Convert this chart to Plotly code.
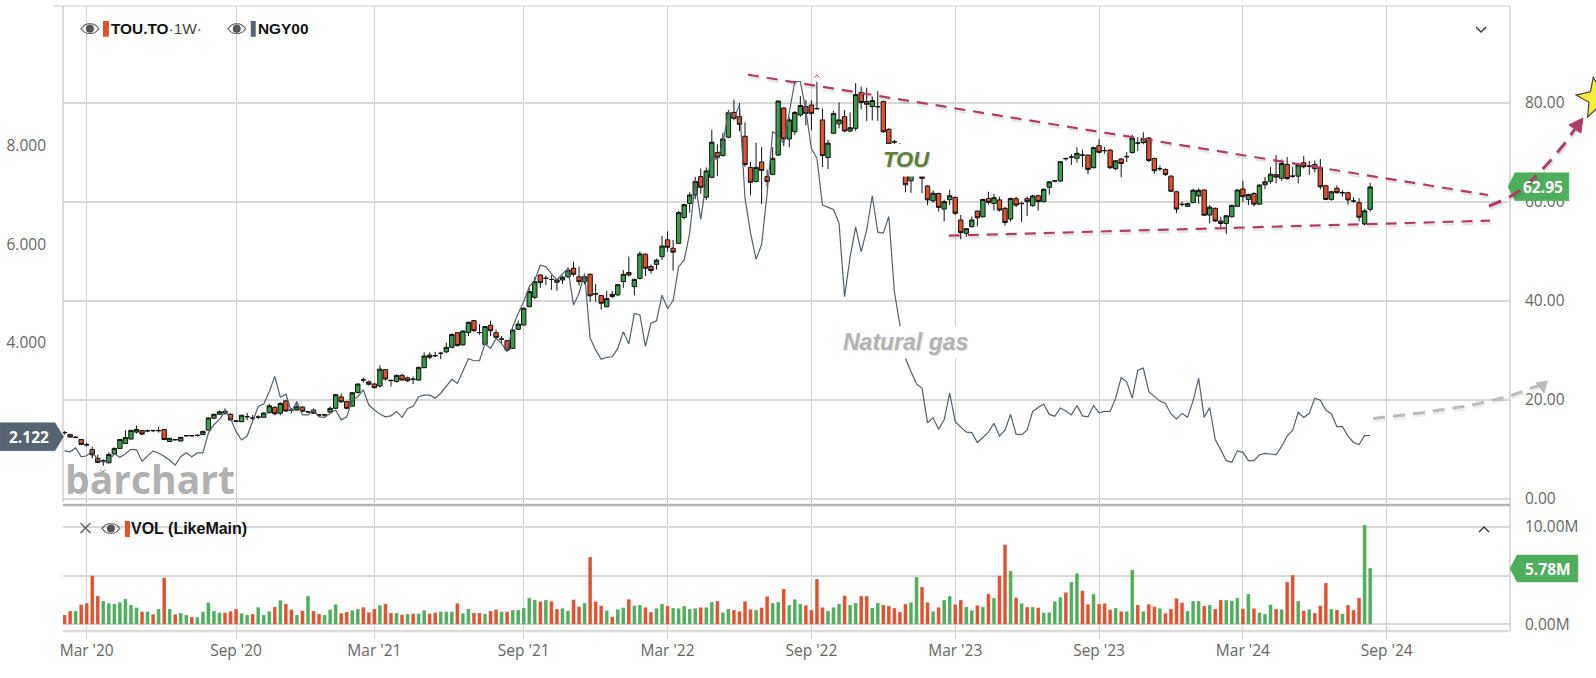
import math

import pandas as pd
import plotly.graph_objects as go

# weekly bars, first bar is the week of 3 Feb 2020
weeks = pd.date_range('2020-02-03', periods=237, freq='7D')

tick_dates = ['2020-03-02', '2020-09-07', '2021-03-01', '2021-09-06', '2022-03-07',
              '2022-09-05', '2023-03-06', '2023-09-04', '2024-03-04', '2024-09-02']
tick_labels = ["Mar '20", "Sep '20", "Mar '21", "Sep '21", "Mar '22",
               "Sep '22", "Mar '23", "Sep '23", "Mar '24", "Sep '24"]

tou_open = [
    13.4, 13.0, 12.5, 12.0, 11.0, 10.0, 8.2, 7.6, 7.3, 9.1,
    10.2, 11.2, 12.1, 13.5, 13.8, 13.8, 13.8, 13.8, 14.0, 11.6,
    12.0, 11.7, 12.75, 12.8, 12.8, 13.0, 13.9, 16.3, 17.1, 17.3,
    17.1, 15.75, 15.6, 16.6, 16.35, 16.5, 16.5, 17.4, 18.5, 17.3,
    19.8, 17.95, 17.95, 18.55, 17.6, 17.95, 16.95, 16.95, 17.55, 18.3,
    20.6, 19.65, 18.75, 21.5, 24.0, 23.65, 23.2, 22.8, 26.1, 23.95,
    23.7, 24.95, 24.45, 24.2, 24.0, 26.5, 29.05, 28.95, 29.4, 29.7,
    30.6, 33.55, 31.1, 33.6, 36.0, 33.6, 31.2, 35.05, 33.55, 32.3,
    31.95, 30.4, 34.25, 35.1, 38.8, 40.7, 45.2, 44.5, 44.3, 43.75,
    44.2, 44.85, 46.55, 44.85, 43.85, 45.35, 41.4, 41.05, 38.8, 41.3,
    41.2, 43.9, 45.7, 42.85, 44.5, 49.4, 46.9, 47.35, 48.9, 52.3,
    50.6, 51.6, 56.8, 59.65, 61.35, 65.05, 60.9, 64.9, 69.9, 69.3,
    73.0, 78.0, 77.15, 73.2, 66.9, 64.05, 68.0, 65.05, 65.5, 69.4,
    78.9, 72.65, 74.1, 77.5, 79.2, 79.5, 78.8, 76.5, 68.9, 73.8,
    75.7, 77.15, 74.25, 74.8, 82.05, 80.2, 79.2, 79.2, 80.2, 74.6,
    72.1, 71.5, 67.0, 64.2, 66.5, 65.2, 63.15, 60.15, 61.65, 58.5,
    60.4, 60.85, 56.3, 53.6, 54.95, 58.1, 56.95, 60.65, 59.65, 60.35,
    58.65, 56.5, 60.6, 59.65, 60.6, 59.2, 61.2, 60.0, 62.9, 64.15,
    64.15, 68.65, 69.0, 68.75, 69.4, 69.4, 66.85, 71.3, 70.3, 70.4,
    66.65, 68.6, 69.05, 69.9, 71.8, 71.9, 72.85, 68.7, 66.65, 66.5,
    65.15, 62.0, 59.45, 59.05, 59.8, 61.15, 62.35, 57.3, 58.65, 56.1,
    55.6, 56.95, 59.05, 62.55, 60.45, 61.65, 59.5, 63.4, 64.1, 65.45,
    64.7, 67.5, 65.15, 65.15, 67.85, 67.2, 67.5, 66.85, 63.2, 60.45,
    62.7, 61.8, 61.8, 60.1, 59.8, 55.5, 58.45]

tou_high = [
    13.7, 13.1, 12.6, 12.1, 11.4, 10.6, 8.9, 8.0, 9.4, 10.4,
    12.1, 13.9, 13.9, 14.8, 13.9, 14.0, 14.0, 14.6, 14.1, 12.3,
    12.1, 12.5, 12.9, 12.9, 13.0, 13.8, 16.5, 17.2, 17.9, 18.3,
    17.3, 15.9, 17.0, 17.4, 16.95, 16.9, 17.5, 19.2, 18.7, 19.5,
    20.0, 18.3, 19.5, 18.7, 17.8, 18.3, 17.1, 17.1, 18.7, 21.2,
    21.3, 19.8, 21.6, 23.3, 24.5, 23.9, 23.4, 26.95, 26.2, 24.1,
    25.1, 25.3, 24.7, 24.7, 26.7, 29.6, 29.6, 29.7, 29.7, 31.55,
    33.4, 33.7, 34.0, 35.8, 36.1, 35.3, 34.9, 36.0, 34.2, 32.9,
    32.0, 34.3, 36.0, 38.6, 42.5, 44.8, 45.4, 45.1, 45.2, 44.5,
    45.1, 46.8, 47.9, 46.9, 45.0, 45.5, 43.4, 41.2, 42.0, 42.0,
    43.4, 46.2, 48.9, 44.5, 49.9, 49.6, 47.3, 48.5, 53.1, 54.0,
    52.3, 58.1, 59.6, 61.9, 65.0, 66.7, 66.9, 74.5, 71.6, 73.9,
    78.5, 80.6, 79.9, 76.0, 68.0, 71.9, 71.0, 66.5, 71.0, 80.5,
    79.0, 77.0, 78.3, 81.3, 80.5, 80.4, 84.2, 78.8, 72.5, 78.3,
    80.0, 78.5, 78.0, 83.9, 83.2, 83.0, 81.2, 82.3, 80.4, 74.8,
    72.5, 71.8, 67.5, 66.5, 67.0, 66.0, 63.3, 62.3, 61.8, 60.4,
    62.4, 61.0, 57.3, 54.7, 57.0, 58.2, 60.6, 62.0, 61.6, 61.0,
    59.0, 60.8, 61.0, 60.0, 61.0, 61.4, 61.4, 62.7, 64.1, 64.4,
    68.2, 68.9, 69.6, 71.0, 70.5, 69.5, 71.1, 72.6, 71.0, 70.6,
    68.4, 68.8, 70.0, 73.5, 73.0, 74.0, 73.0, 68.9, 67.3, 66.7,
    65.3, 62.2, 60.0, 59.8, 62.6, 62.7, 62.5, 59.3, 58.8, 56.9,
    57.3, 59.4, 62.5, 64.2, 61.6, 61.9, 63.5, 65.0, 67.0, 69.4,
    68.5, 69.0, 67.0, 67.6, 69.2, 68.2, 68.3, 68.6, 63.4, 62.2,
    63.3, 62.3, 62.0, 60.9, 60.7, 58.5, 63.8]

tou_low = [
    13.0, 12.4, 12.3, 10.9, 10.6, 8.2, 7.2, 6.7, 7.2, 9.0,
    10.1, 11.1, 12.0, 13.2, 12.9, 13.5, 13.5, 13.4, 11.9, 11.5,
    11.8, 11.6, 12.6, 12.6, 12.6, 12.9, 13.8, 16.2, 17.0, 17.0,
    15.8, 15.5, 15.5, 15.9, 15.8, 16.1, 16.4, 17.3, 16.9, 16.9,
    17.6, 17.3, 17.8, 17.5, 17.3, 17.2, 16.6, 16.7, 17.4, 18.2,
    19.4, 18.1, 18.6, 21.3, 23.5, 22.9, 22.3, 22.5, 23.9, 22.7,
    23.5, 23.9, 23.6, 23.2, 23.9, 26.4, 28.2, 28.6, 28.2, 29.4,
    30.4, 30.8, 31.0, 32.9, 33.8, 33.1, 31.1, 32.9, 32.2, 31.5,
    29.9, 30.3, 34.1, 35.0, 38.7, 40.3, 42.6, 43.2, 42.2, 42.0,
    43.4, 44.6, 44.9, 43.0, 43.3, 39.8, 39.8, 38.2, 38.7, 40.5,
    40.9, 42.6, 44.9, 41.1, 44.3, 45.0, 45.5, 46.3, 48.2, 49.9,
    46.1, 51.4, 56.4, 57.8, 60.5, 61.6, 60.3, 64.7, 65.2, 69.1,
    72.8, 76.4, 74.2, 67.0, 61.3, 63.9, 59.5, 62.9, 65.3, 69.2,
    71.2, 71.0, 73.5, 77.1, 75.4, 74.4, 78.6, 67.0, 66.6, 73.6,
    74.8, 74.0, 74.0, 74.3, 78.6, 76.3, 76.4, 76.3, 73.9, 71.4,
    71.4, 69.5, 61.9, 61.8, 66.0, 61.7, 59.3, 59.8, 58.0, 56.0,
    59.3, 57.3, 52.4, 52.9, 54.8, 55.0, 56.8, 59.4, 58.2, 58.0,
    55.2, 56.0, 58.9, 55.9, 57.1, 59.0, 58.2, 59.9, 61.4, 63.9,
    64.0, 68.3, 67.4, 67.9, 67.0, 65.5, 66.7, 69.7, 69.7, 66.6,
    66.4, 64.9, 68.0, 69.7, 70.2, 71.6, 68.0, 65.6, 66.2, 65.2,
    62.0, 57.7, 59.0, 58.9, 59.7, 59.6, 57.1, 55.6, 55.9, 54.9,
    53.5, 56.8, 58.9, 59.9, 59.3, 59.0, 59.3, 62.5, 63.6, 63.7,
    64.2, 64.4, 64.8, 63.7, 66.7, 65.4, 65.9, 62.5, 60.3, 60.2,
    61.6, 61.0, 59.4, 59.7, 56.0, 55.2, 58.0]

tou_close = [
    13.4, 12.5, 12.4, 11.0, 10.9, 8.9, 7.4, 7.7, 9.0, 10.2,
    12.0, 12.4, 13.85, 14.05, 13.1, 13.75, 13.8, 13.8, 12.0, 12.25,
    11.95, 12.45, 12.8, 12.75, 12.85, 13.65, 16.35, 17.1, 17.6, 17.7,
    15.95, 15.7, 16.9, 16.6, 16.3, 16.55, 17.35, 18.8, 17.2, 19.3,
    17.75, 17.9, 18.6, 17.7, 17.6, 17.3, 16.95, 17.0, 18.3, 21.05,
    19.6, 18.3, 21.45, 23.2, 24.05, 23.15, 22.45, 26.2, 24.2, 23.9,
    24.95, 24.0, 23.85, 24.15, 26.55, 28.85, 28.6, 28.9, 29.4, 30.6,
    33.2, 30.95, 33.9, 35.65, 33.95, 33.6, 34.8, 33.95, 32.6, 32.25,
    30.05, 34.1, 35.3, 38.5, 41.85, 43.85, 43.65, 44.55, 44.3, 44.2,
    44.75, 46.2, 45.35, 43.85, 44.85, 41.0, 41.35, 39.5, 40.45, 40.85,
    43.25, 45.35, 45.2, 44.3, 49.45, 46.55, 46.1, 48.2, 51.05, 50.8,
    49.8, 57.8, 59.4, 61.35, 64.05, 62.9, 66.2, 72.0, 68.95, 72.65,
    77.95, 76.8, 75.6, 67.5, 63.9, 66.9, 66.3, 64.05, 68.75, 80.3,
    72.65, 76.5, 78.0, 79.4, 77.8, 77.8, 78.75, 69.3, 71.8, 77.8,
    76.5, 74.25, 74.9, 81.6, 80.0, 79.65, 80.4, 79.15, 74.1, 71.6,
    72.05, 70.0, 63.4, 66.0, 66.3, 64.7, 60.35, 61.7, 58.85, 60.0,
    61.2, 57.65, 53.75, 54.55, 56.3, 56.75, 60.45, 59.85, 60.8, 58.3,
    55.8, 60.65, 59.3, 59.6, 60.0, 61.15, 60.0, 62.5, 64.0, 64.2,
    68.05, 68.7, 69.0, 69.75, 69.4, 66.5, 70.9, 69.95, 70.3, 66.85,
    68.25, 67.7, 69.1, 72.85, 71.85, 72.75, 68.3, 66.25, 66.65, 65.45,
    62.1, 58.5, 59.45, 59.6, 62.3, 62.3, 57.25, 58.9, 56.1, 55.6,
    57.15, 59.25, 62.35, 61.0, 61.45, 59.5, 63.35, 64.0, 65.55, 64.95,
    67.7, 64.65, 65.15, 67.4, 67.05, 67.15, 66.7, 63.0, 60.45, 62.0,
    61.8, 61.8, 60.35, 60.15, 56.85, 58.15, 62.95]

ngy_close = [
    1.81, 1.79, 1.87, 1.69, 1.71, 1.81, 1.62, 1.58, 1.61, 1.75,
    1.68, 1.75, 1.84, 1.83, 1.60, 1.70, 1.81, 1.76, 1.70, 1.62,
    1.52, 1.69, 1.77, 1.69, 1.77, 1.77, 2.17, 2.34, 2.45, 2.61,
    2.47, 2.20, 2.03, 2.11, 2.40, 2.71, 2.76, 3.01, 3.32, 2.90,
    2.96, 2.61, 2.81, 2.54, 2.54, 2.64, 2.50, 2.49, 2.57, 2.64,
    2.44, 2.50, 2.84, 2.91, 3.05, 2.74, 2.64, 2.56, 2.50, 2.52,
    2.61, 2.49, 2.67, 2.71, 2.91, 2.94, 2.94, 2.88, 2.98, 3.11,
    3.26, 3.18, 3.42, 3.68, 3.64, 3.64, 3.99, 3.89, 4.09, 3.99,
    3.82, 4.33, 4.60, 4.84, 5.14, 5.28, 5.58, 5.55, 5.41, 5.28,
    5.41, 5.50, 4.77, 5.01, 5.41, 4.10, 3.86, 3.67, 3.71, 3.72,
    3.89, 4.23, 3.98, 4.60, 4.57, 3.93, 4.40, 4.45, 4.97, 4.70,
    4.86, 5.55, 5.68, 6.23, 7.28, 6.51, 7.28, 7.78, 7.72, 8.05,
    8.70, 8.56, 8.83, 6.94, 6.23, 5.70, 6.00, 7.04, 8.29, 8.22,
    8.05, 8.70, 9.31, 9.31, 8.73, 7.95, 7.75, 6.80, 6.75, 6.71,
    6.43, 4.94, 5.75, 6.36, 5.85, 6.30, 6.99, 6.25, 6.23, 6.57,
    5.04, 4.35, 3.69, 3.42, 3.17, 3.08, 2.38, 2.48, 2.25, 2.44,
    2.98, 2.40, 2.30, 2.19, 2.18, 1.98, 2.08, 2.19, 2.37, 2.11,
    2.23, 2.55, 2.15, 2.14, 2.23, 2.61, 2.69, 2.76, 2.55, 2.51,
    2.68, 2.62, 2.54, 2.73, 2.52, 2.50, 2.73, 2.58, 2.61, 2.61,
    2.88, 3.30, 3.21, 2.88, 3.45, 3.49, 3.01, 2.92, 2.82, 2.77,
    2.56, 2.46, 2.57, 2.49, 2.83, 3.28, 2.49, 2.69, 2.04, 1.83,
    1.61, 1.58, 1.81, 1.78, 1.61, 1.61, 1.73, 1.76, 1.75, 1.73,
    1.90, 2.11, 2.23, 2.59, 2.49, 2.57, 2.88, 2.84, 2.64, 2.56,
    2.30, 2.30, 2.11, 1.98, 1.94, 2.12, 2.122]

# volume in millions
volume = [
    0.96, 1.37, 1.37, 2.02, 2.16, 5.0, 2.91, 2.4, 2.16, 2.09,
    2.26, 2.6, 1.99, 1.71, 1.3, 1.3, 1.03, 1.58, 4.79, 1.58,
    1.03, 1.16, 0.96, 0.75, 0.72, 1.3, 2.23, 1.37, 1.2, 1.2,
    1.34, 1.58, 1.13, 0.96, 1.06, 1.75, 0.96, 1.34, 1.78, 2.47,
    2.09, 1.51, 0.96, 1.4, 2.91, 1.37, 1.06, 0.96, 1.51, 2.05,
    1.13, 1.27, 1.44, 1.58, 1.75, 1.23, 1.58, 1.95, 2.09, 1.16,
    1.16, 0.99, 1.06, 1.1, 1.1, 1.44, 1.1, 1.2, 1.3, 1.3,
    1.3, 2.16, 1.13, 1.58, 1.16, 1.16, 1.06, 1.37, 1.51, 1.3,
    1.3, 1.47, 1.47, 1.67, 2.7, 2.5, 2.33, 2.5, 2.36, 1.57,
    1.64, 1.4, 2.53, 1.81, 2.19, 6.91, 2.33, 1.91, 1.43, 0.78,
    1.54, 1.71, 2.57, 1.91, 1.98, 1.74, 1.26, 1.64, 2.09, 1.88,
    1.67, 1.64, 1.88, 1.57, 1.64, 1.74, 1.74, 2.29, 2.39, 1.2,
    1.57, 1.47, 1.33, 2.36, 1.54, 1.47, 1.71, 2.87, 2.19, 2.29,
    3.63, 1.98, 2.56, 2.09, 1.95, 1.47, 4.65, 1.74, 1.37, 1.74,
    2.09, 2.94, 1.98, 2.19, 2.9, 2.9, 1.67, 2.19, 1.98, 1.88,
    1.67, 1.26, 2.09, 2.26, 4.86, 3.83, 2.26, 1.33, 1.74, 2.5,
    2.9, 2.05, 2.5, 1.78, 1.43, 1.95, 1.78, 3.11, 2.7, 5.0,
    8.2, 5.48, 2.73, 2.15, 1.78, 1.78, 1.71, 1.2, 1.23, 2.36,
    2.77, 3.28, 4.35, 5.24, 3.45, 2.05, 3.11, 2.09, 2.15, 1.5,
    1.67, 1.33, 1.33, 5.58, 1.98, 1.33, 2.05, 1.81, 1.64, 1.13,
    1.57, 2.67, 2.22, 1.37, 2.39, 2.39, 1.88, 1.98, 1.57, 2.5,
    2.5, 2.43, 2.7, 1.6, 3.11, 1.64, 1.2, 1.06, 2.02, 1.57,
    1.54, 4.35, 5.07, 2.39, 1.4, 1.54, 1.16, 1.91, 4.24, 1.57,
    1.47, 1.09, 1.98, 1.47, 2.7, 10.2, 5.78]

# 1 = up week (green bar), 0 = down week (red bar)
volume_up = [
    0, 0, 1, 0, 0, 0, 0, 1, 1, 1,
    1, 1, 1, 1, 0, 1, 0, 1, 0, 1,
    0, 1, 1, 0, 1, 1, 1, 1, 1, 0,
    0, 0, 1, 1, 0, 1, 1, 1, 0, 1,
    0, 0, 1, 0, 1, 0, 0, 1, 1, 1,
    0, 0, 1, 1, 0, 0, 0, 1, 0, 0,
    1, 0, 1, 0, 1, 1, 0, 0, 1, 1,
    1, 0, 1, 1, 0, 0, 1, 0, 0, 1,
    0, 1, 1, 1, 1, 1, 0, 1, 0, 0,
    1, 1, 0, 0, 1, 0, 0, 0, 1, 0,
    1, 1, 0, 1, 1, 0, 0, 1, 1, 0,
    1, 1, 1, 1, 1, 0, 1, 1, 0, 1,
    1, 0, 0, 0, 0, 1, 0, 0, 1, 1,
    0, 1, 1, 1, 0, 0, 0, 0, 1, 1,
    1, 0, 1, 1, 0, 0, 1, 1, 0, 0,
    0, 0, 0, 1, 1, 0, 0, 1, 0, 1,
    1, 0, 0, 1, 1, 0, 1, 0, 1, 0,
    0, 1, 0, 1, 0, 1, 0, 1, 1, 1,
    1, 0, 1, 1, 0, 0, 1, 0, 0, 0,
    1, 0, 1, 1, 0, 1, 0, 0, 1, 0,
    0, 0, 0, 1, 1, 1, 0, 1, 0, 0,
    1, 1, 1, 0, 1, 0, 1, 1, 1, 0,
    1, 0, 0, 1, 0, 1, 0, 0, 0, 1,
    0, 1, 0, 0, 0, 1, 1]

GREEN = '#3c9a4c'
VOL_GREEN = '#4fae5c'
RED = '#e2512f'
TREND = '#b23c68'
GRID = '#cfcfcf'
TEXT = '#666666'
LEFT, RIGHT, TOP, BOTTOM = 61, 1510, 6, 631


def px(x):
    return (x - LEFT) / (RIGHT - LEFT)


def py(y):
    return (BOTTOM - y) / (BOTTOM - TOP)


def path(points, close=False):
    '''pixel points to a paper coordinate svg path'''
    parts = [f'{"M" if i == 0 else "L"}{px(x):.5f},{py(y):.5f}' for i, (x, y) in enumerate(points)]
    return ' '.join(parts) + (' Z' if close else '')


shapes = []
annotations = []


def add_line(points, color, width=1.5, dash=None, close=False, fill=None, layer='above'):
    shapes.append(dict(type='path', xref='paper', yref='paper', path=path(points, close), layer=layer,
                       line=dict(color=color, width=width, dash=dash), fillcolor=fill))


def add_rect(x0, y0, x1, y1, fill):
    shapes.append(dict(type='rect', xref='paper', yref='paper', x0=px(x0), x1=px(x1), y0=py(y0), y1=py(y1),
                       line=dict(width=0), fillcolor=fill, layer='above'))


def add_text(x, y, text, size, color, anchor='center', family='Open Sans', weight=None, style=None, shadow=None):
    annotations.append(dict(xref='paper', yref='paper', x=px(x), y=py(y), text=text, showarrow=False,
                            xanchor=anchor, yanchor='middle', borderpad=0,
                            font=dict(size=size, color=color, family=family, weight=weight, style=style,
                                      shadow=shadow)))


def add_eye(x, y):
    top = [(x - 9, y), (x - 6, y - 3.2), (x - 2.5, y - 4.8), (x + 2.5, y - 4.8), (x + 6, y - 3.2), (x + 9, y)]
    low = [(x + 6, y + 3.2), (x + 2.5, y + 4.8), (x - 2.5, y + 4.8), (x - 6, y + 3.2)]
    add_line(top + low, '#666666', 1.1, close=True)
    shapes.append(dict(type='circle', xref='paper', yref='paper', x0=px(x - 4), x1=px(x + 4),
                       y0=py(y - 4), y1=py(y + 4), fillcolor='#555555', line=dict(width=0), layer='above'))


def add_pill(x_tip, x_shoulder, x_end, y, half, color, text, text_x):
    pts = [(x_tip, y), (x_shoulder, y - half), (x_end, y - half), (x_end, y + half), (x_shoulder, y + half)]
    add_line(pts, color, 0.5, close=True, fill=color)
    add_text(text_x, y, text, 15.5, 'white', weight=700)


# frame
add_line([(51, TOP), (RIGHT, TOP)], GRID, 1.2, layer='below')
add_line([(LEFT, TOP), (LEFT, 502)], GRID, 1.5, layer='below')
add_line([(RIGHT, TOP), (RIGHT, BOTTOM)], GRID, 1.5, layer='below')
add_line([(LEFT, BOTTOM), (RIGHT, BOTTOM)], '#dcdcdc', 2.5, layer='below')
add_line([(LEFT, 505), (RIGHT, 505)], '#b4b4b4', 2.5)

# white boxes behind the hand written labels
add_rect(883, 144, 931, 176.5, 'white')
add_rect(836, 326.5, 975, 358.5, 'white')

# current value flags, the drawings go over them
add_pill(1508, 1515, 1569, 186.7, 14, VOL_GREEN, '62.95', 1543)
add_pill(1510, 1517, 1578, 568.5, 13.5, VOL_GREEN, '5.78M', 1548)
add_pill(61.5, 53, -2, 436.7, 14, '#566470', '2.122', 26.5)

# trend lines with their soft shadow
upper = [(747, 74.7), (1488, 195)]
lower = [(948, 235.7), (1490, 220.7)]
for seg in (upper, lower):
    add_line([(x + 1, y + 2.5) for x, y in seg], 'rgba(0,0,0,0.10)', 2.5, dash='11px,8px')
    add_line(seg, TREND, 2.2, dash='11px,8px')

# hand drawn arrow to the star
red_arrow = [(1489, 206), (1507, 198.5), (1522, 189), (1537, 175), (1552, 159), (1566, 142), (1577, 126)]
add_line([(x + 1, y + 2.5) for x, y in red_arrow], 'rgba(0,0,0,0.12)', 3, dash='13px,9px')
add_line(red_arrow, TREND, 3, dash='13px,9px')
add_line([(1583, 118), (1569, 125), (1581, 133)], TREND, 1, close=True, fill=TREND)

star = []
for k in range(10):
    r = 21 if k % 2 == 0 else 9
    a = math.radians(-100 + k * 36)
    star.append((1597 + r * math.cos(a), 98 + r * math.sin(a)))
add_line(star, '#444444', 1.2, close=True, fill='#fbee3b')

# grey arrow for gas
grey_arrow = [(1373, 418.5), (1420, 413), (1470, 405.5), (1510, 396), (1540, 385)]
add_line([(x + 1, y + 2.5) for x, y in grey_arrow], 'rgba(0,0,0,0.07)', 3, dash='12px,8px')
add_line(grey_arrow, '#bcbcbc', 3, dash='12px,8px')
add_line([(1547.5, 381), (1536, 383), (1544, 393)], '#bcbcbc', 1, close=True, fill='#bcbcbc')

# chevrons and the small high/low flags
add_line([(1476, 27), (1481, 32), (1486, 27)], '#333333', 1.3)
add_line([(1479, 532), (1484, 527), (1489, 532)], '#333333', 1.3)
add_line([(813.5, 77.5), (816, 75), (818.5, 77.5)], RED, 1)
add_line([(98.5, 469.5), (101, 472), (103.5, 469.5)], VOL_GREEN, 1)

# legend rows
add_eye(88, 28.7)
add_rect(101, 21, 107, 36.7, RED)
add_text(108, 28.7, '<b>TOU.TO</b><span style="color:#444444">·1W·</span>', 15.4, '#111111', 'left',
         'Liberation Sans')
add_eye(235, 28.7)
add_rect(249, 21, 254, 36.7, '#566470')
add_text(255, 28.7, '<b>NGY00</b>', 15.4, '#111111', 'left', 'Liberation Sans')
add_line([(78.5, 523), (88.5, 533)], '#555555', 1.1)
add_line([(78.5, 533), (88.5, 523)], '#555555', 1.1)
add_eye(109, 528.5)
add_rect(123, 521, 128, 537, RED)
add_text(128.5, 528.5, '<b>VOL (LikeMain)</b>', 16, '#111111', 'left', 'Liberation Sans')

# labels on the chart
add_text(906, 159, 'TOU', 22, '#5e7f3a', family='Liberation Sans', weight=700, style='italic',
         shadow='1px 1px 1px rgba(0,0,0,0.2)')
add_text(905, 342, 'Natural gas', 23, '#b3b3b3', family='Liberation Sans', weight=700, style='italic',
         shadow='1px 1px 1px rgba(0,0,0,0.12)')
add_text(148, 478, 'barchart', 39, 'rgba(165,165,165,0.9)', family='Open Sans', weight=700)

vol_colors = [VOL_GREEN if up else RED for up in volume_up]

fig = go.Figure()
fig.add_trace(go.Bar(x=weeks, y=volume, xaxis='x', yaxis='y', width=7 * 86400000 * 0.66,
                     marker=dict(color=vol_colors, line=dict(color='rgba(255,255,255,0.35)', width=0.6))))
fig.add_trace(go.Candlestick(x=weeks, open=tou_open, high=tou_high, low=tou_low, close=tou_close,
                             xaxis='x2', yaxis='y2', whiskerwidth=0,
                             increasing=dict(fillcolor=GREEN, line=dict(color='#111111', width=1)),
                             decreasing=dict(fillcolor=RED, line=dict(color='#111111', width=1))))
fig.add_trace(go.Scatter(x=weeks, y=ngy_close, xaxis='x2', yaxis='y3', mode='lines',
                         line=dict(color='#52606d', width=1.2)))

x_range = ['2020-02-01', '2025-02-05']
tick_font = dict(family='Open Sans', size=15.5, color=TEXT)
fig.update_layout(
    width=1596, height=678, showlegend=False, plot_bgcolor='white', paper_bgcolor='white', hovermode=False,
    margin=dict(l=LEFT, r=1596 - RIGHT, t=TOP, b=678 - BOTTOM, pad=0),
    shapes=shapes, annotations=annotations, boxgap=0.1, boxgroupgap=0.12,
    xaxis=dict(type='date', range=x_range, domain=[0, 1], anchor='y', tickmode='array', tickvals=tick_dates,
               ticktext=tick_labels, showgrid=True, gridcolor=GRID, gridwidth=1.3, zeroline=False,
               ticks='outside', ticklen=7, tickcolor=GRID, tickwidth=1.3, tickfont=tick_font, showline=False,
               ticklabelstandoff=-2),
    xaxis2=dict(type='date', range=x_range, domain=[0, 1], anchor='y2', matches='x', tickmode='array',
                tickvals=tick_dates, showticklabels=False, showgrid=True, gridcolor=GRID, gridwidth=1.3,
                zeroline=False, ticks='', rangeslider=dict(visible=False)),
    yaxis=dict(domain=[0, 126 / 625], range=[-0.689, 12.26], side='right', anchor='x', tickmode='array',
               tickvals=[0, 5, 10], ticktext=['0.00M', '', '10.00M'], showgrid=True, gridcolor='#d8d8d8',
               gridwidth=1.5, zeroline=False, ticks='', tickfont=tick_font, ticklabelstandoff=14),
    yaxis2=dict(domain=[128 / 625, 1], range=[-0.807, 99.48], side='right', anchor='x2', tickmode='array',
                tickvals=[0, 20, 40, 60, 80], ticktext=['0.00', '20.00', '40.00', '60.00', '80.00'],
                showgrid=True, gridcolor='#d8d8d8', gridwidth=1.5, zeroline=False, ticks='', tickfont=tick_font,
                ticklabelstandoff=14),
    yaxis3=dict(domain=[128 / 625, 1], range=[0.751, 10.843], side='left', anchor='x2', overlaying='y2',
                tickmode='array', tickvals=[4, 6, 8], ticktext=['4.000', '6.000', '8.000'], showgrid=False,
                zeroline=False, ticks='', tickfont=tick_font, ticklabelstandoff=16),
)

fig.write_html('out.html', config={'displayModeBar': False},
               post_script="document.body.style.margin='0';document.body.style.overflow='hidden';")
